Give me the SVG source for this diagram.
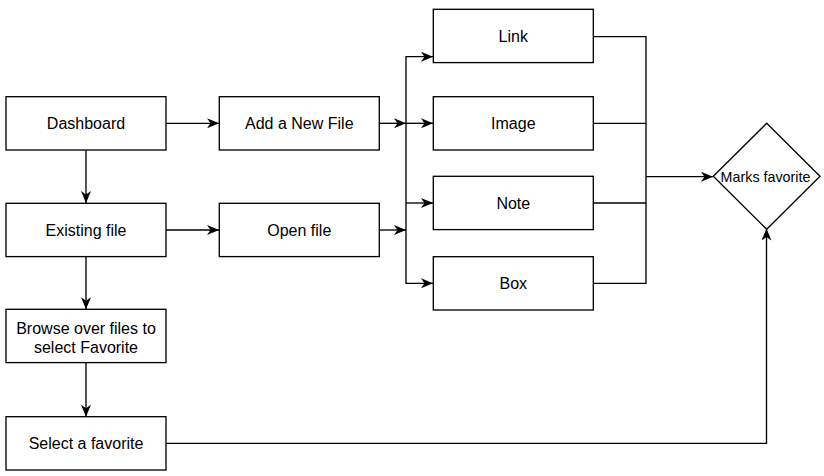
<svg xmlns="http://www.w3.org/2000/svg" width="824" height="476" viewBox="0 0 824 476">
<style>
.n rect,.n path{fill:#fff;stroke:#000;stroke-width:1.33}
.n text{font-family:"Liberation Sans",Arial,sans-serif;font-size:16px;fill:#000;text-anchor:middle}
#edges path{fill:none;stroke:#000;stroke-width:1.33}
</style>
<defs>
<marker id="ar" viewBox="0 0 12 10" refX="12" refY="5" markerWidth="12" markerHeight="10" markerUnits="userSpaceOnUse" orient="auto">
<path d="M0,0 L12,5 L0,10 L3.5,5 Z" fill="#000"/>
</marker>
</defs>
<rect width="824" height="476" fill="#fff"/>
<g id="edges">
<path d="M166,123.3 H219" marker-end="url(#ar)"/>
<path d="M379.5,123.3 H406" marker-end="url(#ar)"/>
<path d="M406,123.3 H433" marker-end="url(#ar)"/>
<path d="M406,123.3 V56.7 H433" marker-end="url(#ar)"/>
<path d="M406,123.3 V283.3 H433" marker-end="url(#ar)"/>
<path d="M406,203 H433" marker-end="url(#ar)"/>
<path d="M379.5,230 H406" marker-end="url(#ar)"/>
<path d="M593,36.7 H646 V176.7 H713" marker-end="url(#ar)"/>
<path d="M593,123.3 H646"/>
<path d="M593,203 H646"/>
<path d="M593,283.3 H646 V176.7"/>
<path d="M86,150 V203" marker-end="url(#ar)"/>
<path d="M166,230 H219" marker-end="url(#ar)"/>
<path d="M86,256.7 V309.3" marker-end="url(#ar)"/>
<path d="M86,362.7 V416.7" marker-end="url(#ar)"/>
<path d="M166,443.3 H766.5 V228.5" marker-end="url(#ar)"/>
</g>
<g id="dashboard" class="n"><rect x="6" y="96.7" width="160" height="53.3"/><text x="86" y="129">Dashboard</text></g>
<g id="add-file" class="n"><rect x="219.3" y="96.7" width="160" height="53.3"/><text x="299.3" y="129">Add a New File</text></g>
<g id="existing-file" class="n"><rect x="6" y="203.3" width="160" height="53.3"/><text x="86" y="235.7">Existing file</text></g>
<g id="open-file" class="n"><rect x="219.3" y="203.3" width="160" height="53.3"/><text x="299.3" y="235.7">Open file</text></g>
<g id="browse" class="n"><rect x="6" y="309.3" width="160" height="53.3"/><text x="86" y="333.5">Browse over files to</text><text x="86" y="352.5">select Favorite</text></g>
<g id="select-favorite" class="n"><rect x="6" y="416.7" width="160" height="53.3"/><text x="86" y="449">Select a favorite</text></g>
<g id="link" class="n"><rect x="433.3" y="9.3" width="160" height="53.3"/><text x="513.3" y="42">Link</text></g>
<g id="image" class="n"><rect x="433.3" y="96.7" width="160" height="53.3"/><text x="513.3" y="129">Image</text></g>
<g id="note" class="n"><rect x="433.3" y="176.3" width="160" height="53.3"/><text x="513.3" y="208.7">Note</text></g>
<g id="box" class="n"><rect x="433.3" y="256.7" width="160" height="53.3"/><text x="513.3" y="289">Box</text></g>
<g id="marks-favorite" class="n"><path d="M766.7,123.3 L820,176.3 L766.7,229.3 L713.3,176.3 Z"/><text x="765.5" y="181.5" style="font-size:14.3px">Marks favorite</text></g>
</svg>
